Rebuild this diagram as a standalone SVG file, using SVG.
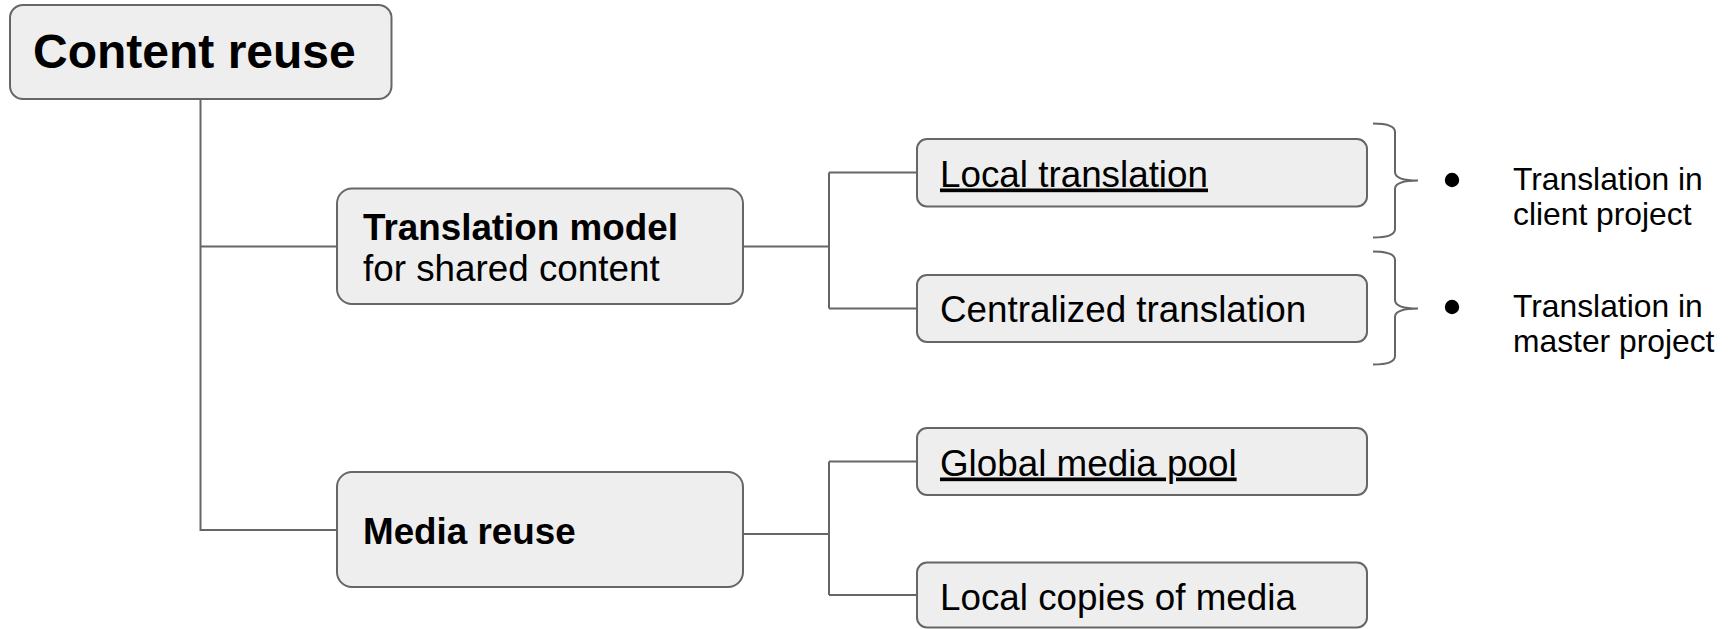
<svg xmlns="http://www.w3.org/2000/svg" width="1729" height="629" viewBox="0 0 1729 629">
<style>
.box{fill:#eeeeee;stroke:#666666;stroke-width:2}
.ln{fill:none;stroke:#666666;stroke-width:2}
.t{font-family:"Liberation Sans",Arial,sans-serif;fill:#000000;font-size:36.8px}
.b{font-weight:bold}
.u{text-decoration:underline}
.s{font-family:"Liberation Sans",Arial,sans-serif;fill:#000000;font-size:31.8px}
</style>
<rect width="1729" height="629" fill="#ffffff"/>
<g id="connectors">
<path class="ln" d="M200.5,99 V530 H337 M200.5,246.5 H337"/>
<path class="ln" d="M743,246.5 H829 M829,172.5 V308.5 M829,172.5 H917 M829,308.5 H917"/>
<path class="ln" d="M743,534 H829 M829,461.5 V595 M829,461.5 H917 M829,595 H917"/>
</g>
<g id="content-reuse">
<rect class="box" x="10" y="5" width="381.5" height="94" rx="13"/>
<text class="t b" x="33" y="68" style="font-size:48px">Content reuse</text>
</g>
<g id="translation-model">
<rect class="box" x="337" y="188.5" width="406" height="115.5" rx="15"/>
<text class="t b" x="363" y="239.5">Translation model</text>
<text class="t" x="363" y="281">for shared content</text>
</g>
<g id="media-reuse">
<rect class="box" x="337" y="472" width="406" height="115" rx="15"/>
<text class="t b" x="363" y="543.5">Media reuse</text>
</g>
<g id="local-translation">
<rect class="box" x="917" y="139" width="450" height="67.5" rx="10"/>
<text class="t u" x="940" y="186.5">Local translation</text>
</g>
<g id="centralized-translation">
<rect class="box" x="917" y="275" width="450" height="67" rx="10"/>
<text class="t" x="940" y="322">Centralized translation</text>
</g>
<g id="global-media-pool">
<rect class="box" x="917" y="428" width="450" height="67" rx="10"/>
<text class="t u" x="940" y="475.5">Global media pool</text>
</g>
<g id="local-copies">
<rect class="box" x="917" y="562.5" width="450" height="65" rx="10"/>
<text class="t" x="940" y="610">Local copies of media</text>
</g>
<g id="brace-client">
<path class="ln" d="M1373,123.5 Q1395,123.5 1395,132 V172 Q1395,180.5 1418,180.5 Q1395,180.5 1395,189 V229 Q1395,237.5 1373,237.5"/>
<circle cx="1452" cy="180" r="7.2" fill="#000000"/>
<text class="s" x="1513" y="190">Translation in</text>
<text class="s" x="1513" y="225">client project</text>
</g>
<g id="brace-master">
<path class="ln" d="M1373,251.5 Q1395,251.5 1395,260 V300 Q1395,308.5 1418,308.5 Q1395,308.5 1395,317 V356 Q1395,364.5 1373,364.5"/>
<circle cx="1452" cy="307" r="7.2" fill="#000000"/>
<text class="s" x="1513" y="317">Translation in</text>
<text class="s" x="1513" y="352">master project</text>
</g>
</svg>
